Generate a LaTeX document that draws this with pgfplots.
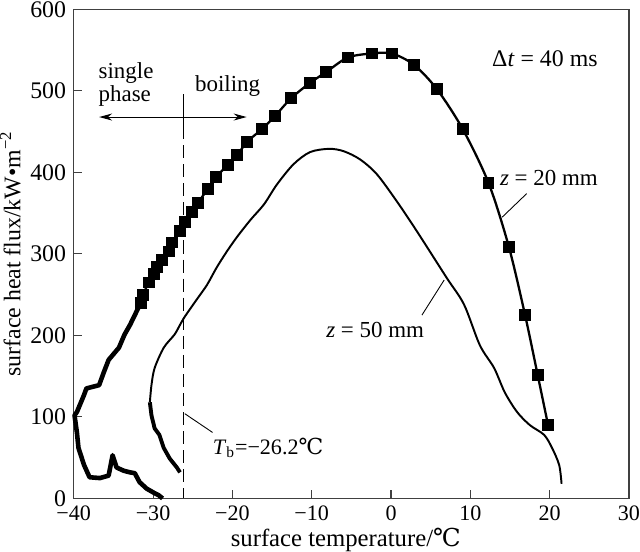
\documentclass[border=0pt]{standalone}
\usepackage{fontspec}
\setmainfont{Liberation Serif}
\newfontfamily\symfont{DejaVu Serif}
\newcommand\celsius{{\symfont ℃}}
\usepackage{pgfplots}
\pgfplotsset{compat=1.18}
\usetikzlibrary{arrows.meta}

\begin{document}
\fontsize{12.5}{14}\selectfont
\begin{tikzpicture}
\begin{axis}[
  width=110.6mm, height=97.4mm, scale only axis,
  xmin=-40, xmax=30, ymin=0, ymax=600,
  xtick={-40,-30,-20,-10,0,10,20,30},
  xticklabels={−40,−30,−20,−10,0,10,20,30},
  ytick={0,100,200,300,400,500,600},
  yticklabels={0,100,200,300,400,500,600},
  xticklabel style={font=\fontsize{12.5}{14}\selectfont, inner xsep=0pt},
  yticklabel style={font=\fontsize{13.5}{15}\selectfont, inner ysep=0.8pt},
  xtick pos=bottom, ytick pos=left,
  tick align=inside, major tick length=1.7mm,
  axis line style={black!75, line width=0.6pt},
  tick style={black!75, line width=0.6pt},
  xlabel={surface temperature/\celsius},
  ylabel={surface heat flux/kW•m\textsuperscript{−2}},
  xlabel style={at={(axis description cs:0.49,-0.06)}, anchor=north,
    inner sep=0pt, font=\fontsize{14}{16}\selectfont},
  ylabel style={at={(axis description cs:-0.095,0.5)}, anchor=south,
    inner sep=0pt, font=\fontsize{13.5}{15}\selectfont},
  clip=false,
]
% z = 20 mm, low-temperature part (thick, no marks)
\addplot[black, line width=2.6pt, line join=round] coordinates {
  (-28.8,0) (-29.3,4) (-29.9,7) (-30.8,12) (-31.7,20) (-32.3,31)
  (-32.9,32) (-33.7,34) (-34.6,38) (-35.1,53) (-35.6,28) (-36.7,25)
  (-38.0,26) (-38.7,41) (-39.4,62) (-39.6,81) (-39.9,102) (-39.6,106)
  (-38.7,127) (-38.4,135) (-36.8,139) (-36.2,155) (-35.6,170)
  (-34.3,185) (-33.6,201) (-32.9,213) (-32.1,229) (-31.55,240)};
% z = 20 mm, marked part
\addplot[black, line width=1.3pt, smooth, mark=square*, mark size=2.7pt,
  mark options={solid}] coordinates {
  (-31.55,240) (-31.3,250) (-30.5,265) (-29.9,275) (-29.5,284)
  (-28.9,293) (-28.0,303) (-27.6,314) (-26.6,328) (-26.0,339)
  (-25.1,351) (-24.3,363) (-23.1,380) (-22.1,394) (-20.6,409)
  (-19.4,421) (-18.2,437) (-16.3,453) (-14.65,469) (-12.6,491)
  (-10.2,510) (-8.2,523) (-5.45,541) (-2.4,546) (0.1,546) (2.9,532)
  (5.8,502) (9.05,453) (12.3,387) (14.85,309) (16.9,225) (18.5,151)
  (19.8,90)};
% z = 50 mm, low part (thick)
\addplot[black, line width=2.2pt, line join=round] coordinates {
  (-26.6,32) (-27.0,38) (-27.9,49) (-28.65,62) (-29.2,78) (-29.8,86)
  (-30.2,102) (-30.4,118)};
% z = 50 mm
\addplot[black, line width=1.1pt, smooth] coordinates {
  (-30.4,118) (-30.2,139) (-29.8,160) (-28.65,185) (-27.3,201)
  (-26.6,213) (-26.0,223) (-24.5,244) (-23.2,262) (-22.0,283)
  (-20.7,303) (-19.4,321) (-17.7,342) (-16.0,361) (-14.4,385)
  (-12.3,410) (-10.2,425) (-7.8,429) (-5.95,426) (-3.9,416)
  (-1.8,398) (0.7,365) (3.25,328) (7.0,271) (9.2,238) (11.2,188)
  (13.0,160) (14.35,130) (15.9,106) (17.5,90) (19.3,78) (20.3,62)
  (21.2,41) (21.5,18)};

% boiling temperature line
\draw[black, line width=0.6pt] (axis cs:-26.2,496) -- (axis cs:-26.2,457);
\draw[black, line width=0.6pt, dash pattern=on 2.6mm off 1.2mm]
  (axis cs:-26.2,457) -- (axis cs:-26.2,0);
\draw[black, line width=0.6pt, {Stealth[length=2.6mm,width=1.4mm]}-{Stealth[length=2.6mm,width=1.4mm]}]
  (axis cs:-36.8,468) -- (axis cs:-18.2,468);
\node[align=left, inner sep=0pt, font=\fontsize{13}{13}\selectfont]
  at (axis cs:-33.4,508) {single\\phase};
\node[inner sep=0pt, font=\fontsize{13}{14}\selectfont]
  at (axis cs:-20.6,506) {boiling};

% annotations
\node[inner sep=0pt, font=\fontsize{13.5}{15}\selectfont]
  at (axis cs:19.4,539) {Δ\textit{t} = 40 ms};
\node[inner sep=0pt, font=\fontsize{13}{15}\selectfont]
  at (axis cs:19.9,393) {\textit{z} = 20 mm};
\draw[black, line width=0.5pt] (axis cs:17.1,374) -- (axis cs:14.0,345);
\node[inner sep=0pt, font=\fontsize{13}{15}\selectfont]
  at (axis cs:-2.0,207) {\textit{z} = 50 mm};
\draw[black, line width=0.5pt] (axis cs:3.9,225) -- (axis cs:6.7,268);
\node[inner sep=0pt, font=\fontsize{12.5}{14}\selectfont]
  at (axis cs:-15.5,62) {\textit{T}\textsubscript{b}=−26.2\celsius};
\draw[black, line width=0.5pt] (axis cs:-26.0,104) -- (axis cs:-22.5,81);
\end{axis}
\end{tikzpicture}
\end{document}
